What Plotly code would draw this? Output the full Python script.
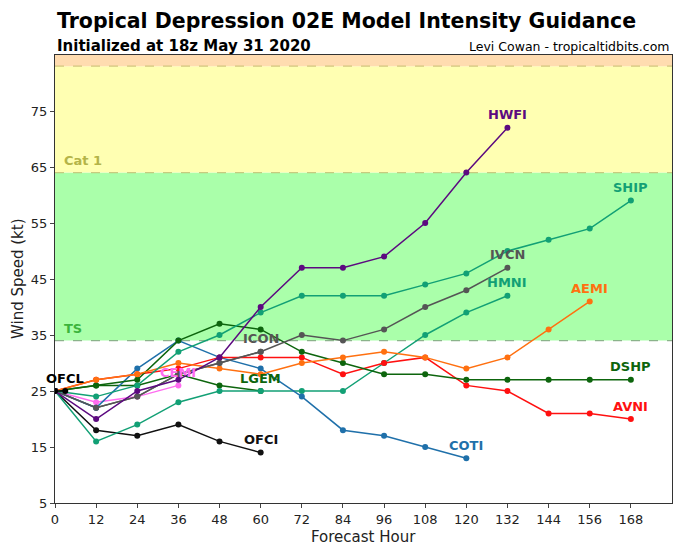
import plotly.graph_objects as go

hours = [0, 12, 24, 36, 48, 60, 72, 84, 96, 108, 120, 132, 144, 156, 168]

# model name -> values (kt), starting at hour 0 every 12 h
HWFI = [25, 20, 25, 27, 31, 40, 47, 47, 49, 55, 64, 72]
SHIP = [25, 24, 26, 32, 35, 39, 42, 42, 42, 44, 46, 50, 52, 54, 59]
IVCN = [25, 22, 24, 28, 30, 32, 35, 34, 36, 40, 43, 47]
HMNI = [25, 16, 19, 23, 25, 25, 25, 25, 30, 35, 39, 42]
AEMI = [25, 27, 28, 30, 29, 28, 30, 31, 32, 31, 29, 31, 36, 41]
DSHP = [25, 26, 27, 34, 37, 36, 32, 30, 28, 28, 27, 27, 27, 27, 27]
AVNI = [25, 27, 28, 29, 31, 31, 31, 28, 30, 31, 26, 25, 21, 21, 20]
COTI = [25, 22, 29, 34, 31, 29, 24, 18, 17, 15, 13]
OFCI = [25, 18, 17, 19, 16, 14]
LGEM = [25, 26, 26, 28, 26, 25]
ICON = [25, 22, 24, 28, 30, 32]
CEMI = [25, 23, 24, 26]
OFCL_hours = [0, 3]
OFCL = [25, 25]

series = [
    ("OFCI", OFCI, "#111111"),
    ("LGEM", LGEM, "#0d650d"),
    ("CEMI", CEMI, "#ff6cf0"),
    ("ICON", ICON, "#555555"),
    ("HMNI", HMNI, "#12a075"),
    ("COTI", COTI, "#1f70aa"),
    ("AVNI", AVNI, "#ff1010"),
    ("DSHP", DSHP, "#0d650d"),
    ("AEMI", AEMI, "#ff7010"),
    ("IVCN", IVCN, "#555555"),
    ("SHIP", SHIP, "#12a075"),
    ("HWFI", HWFI, "#5c0a80"),
]

fig = go.Figure()

# intensity bands
bands = [(5, 34, "#ffffff"), (34, 64, "#aaffaa"), (64, 83, "#ffffb2"), (83, 85, "#ffdcb0")]
for y0, y1, c in bands:
    fig.add_shape(type="rect", xref="paper", yref="y", x0=0, x1=1, y0=y0, y1=y1,
                  fillcolor=c, line_width=0, layer="below")
for yv, c in [(34, "rgba(120,160,120,0.8)"), (64, "rgba(190,190,110,0.8)"), (83, "rgba(200,190,110,0.8)")]:
    fig.add_shape(type="line", xref="paper", yref="y", x0=0, x1=1, y0=yv, y1=yv,
                  line=dict(color=c, width=1.2, dash="dash"), layer="below")

fig.add_annotation(x=0.012, y=64, xref="paper", yref="y", text="<b>Cat 1</b>", showarrow=False,
                   xanchor="left", yanchor="bottom", yshift=3, font=dict(size=13, color="#b4b448"))
fig.add_annotation(x=0.012, y=34, xref="paper", yref="y", text="<b>TS</b>", showarrow=False,
                   xanchor="left", yanchor="bottom", yshift=3, font=dict(size=13, color="#3cb43c"))

for name, vals, color in series:
    xs = hours[:len(vals)]
    fig.add_trace(go.Scatter(x=xs, y=vals, mode="lines+markers", name=name,
                             line=dict(color=color, width=1.5),
                             marker=dict(color=color, size=6), showlegend=False))
    fig.add_annotation(x=xs[-1], y=vals[-1], text="<b>%s</b>" % name, showarrow=False,
                       yshift=13, font=dict(size=13, color=color))

fig.add_trace(go.Scatter(x=OFCL_hours, y=OFCL, mode="lines+markers", name="OFCL",
                         line=dict(color="#000000", width=1.5),
                         marker=dict(color="#000000", size=6), showlegend=False))
fig.add_annotation(x=OFCL_hours[-1], y=OFCL[-1], text="<b>OFCL</b>", showarrow=False,
                   yshift=13, font=dict(size=13, color="#000000"))

fig.update_layout(
    width=700, height=547,
    margin=dict(l=55, r=28, t=55, b=44),
    paper_bgcolor="white", plot_bgcolor="white",
    font=dict(family="DejaVu Sans", size=13, color="#222222"),
    annotations=list(fig.layout.annotations) + [
        dict(text="<b>Tropical Depression 02E Model Intensity Guidance</b>", x=0, y=1.0,
             xref="paper", yref="paper", xanchor="left", yanchor="bottom", yshift=20,
             showarrow=False, font=dict(size=20.5, color="black")),
        dict(text="<b>Initialized at 18z May 31 2020</b>", x=0, y=1.0,
             xref="paper", yref="paper", xanchor="left", yanchor="bottom", yshift=-2,
             showarrow=False, font=dict(size=15, color="black")),
        dict(text="Levi Cowan - tropicaltidbits.com", x=1, y=1.0,
             xref="paper", yref="paper", xanchor="right", yanchor="bottom", yshift=-1,
             showarrow=False, font=dict(size=12.5, color="black")),
        dict(text="Forecast Hour", x=0.5, y=0, xref="paper", yref="paper",
             xanchor="center", yanchor="top", yshift=-23, showarrow=False,
             font=dict(size=15, color="#222222")),
        dict(text="Wind Speed (kt)", x=0, y=0.5, xref="paper", yref="paper",
             xanchor="center", yanchor="middle", xshift=-37, textangle=-90, showarrow=False,
             font=dict(size=15, color="#222222")),
    ],
)
fig.update_xaxes(range=[0, 180], tickvals=hours, ticks="outside", ticklen=4,
                 showgrid=False, zeroline=False, showline=True, linecolor="#333333",
                 linewidth=1.2, mirror=True, automargin=False)
fig.update_yaxes(range=[5, 85], tickvals=[5, 15, 25, 35, 45, 55, 65, 75], ticks="outside",
                 ticklen=4, showgrid=False, zeroline=False, showline=True, linecolor="#333333",
                 linewidth=1.2, mirror=True, automargin=False)

fig.write_html("out.html")
